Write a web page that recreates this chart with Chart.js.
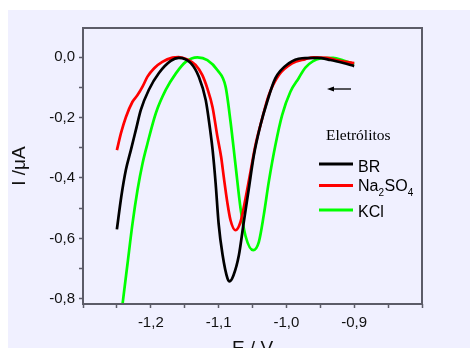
<!DOCTYPE html>
<html>
<head>
<meta charset="utf-8">
<script src="https://cdn.jsdelivr.net/npm/chart.js@4.4.1/dist/chart.umd.min.js"></script>
<style>
    body { margin: 0; background: #ffffff; overflow: hidden; }
    #box { position: absolute; left: 8px; top: 10px; width: 462px; height: 354px; }
</style>
</head>
<body>
<div id="box"><canvas id="myChartVoltametria"></canvas></div>
<script>
// potencial (V) e corrente (uA)
var brE = [-1.25, -1.2436, -1.2368, -1.2294, -1.2221, -1.2147, -1.203, -1.188, -1.1706, -1.1588, -1.141, -1.129, -1.119, -1.1118, -1.1088, -1.1044, -1.1, -1.0941, -1.0868, -1.0838, -1.078, -1.0701, -1.0628, -1.0554, -1.048, -1.0382, -1.0284, -1.0162, -0.9966, -0.9769, -0.9544, -0.935, -0.916, -0.9];
var brI = [-0.570, -0.463, -0.374, -0.308, -0.242, -0.175, -0.109, -0.053, -0.013, -0.003, -0.020, -0.066, -0.142, -0.252, -0.308, -0.417, -0.550, -0.655, -0.733, -0.742, -0.722, -0.656, -0.545, -0.435, -0.325, -0.225, -0.148, -0.070, -0.021, -0.004, -0.003, -0.010, -0.020, -0.030];

var naE = [-1.25, -1.244, -1.2368, -1.227, -1.2196, -1.2122, -1.2049, -1.195, -1.183, -1.168, -1.159, -1.146, -1.134, -1.124, -1.1166, -1.109, -1.102, -1.0963, -1.0922, -1.0872, -1.0824, -1.075, -1.0676, -1.0603, -1.053, -1.0456, -1.0357, -1.026, -1.0113, -0.9916, -0.972, -0.96, -0.94, -0.921, -0.9];
var naI = [-0.308, -0.252, -0.199, -0.148, -0.126, -0.098, -0.065, -0.037, -0.016, -0.002, 0.000, -0.008, -0.026, -0.060, -0.104, -0.165, -0.26, -0.33, -0.40, -0.48, -0.54, -0.573, -0.545, -0.468, -0.380, -0.291, -0.203, -0.126, -0.060, -0.021, -0.007, -0.001, -0.003, -0.013, -0.020];

var kclE = [-1.25, -1.2416, -1.2343, -1.227, -1.2196, -1.2122, -1.2049, -1.1926, -1.178, -1.163, -1.1485, -1.1313, -1.1166, -1.1019, -1.0897, -1.0824, -1.075, -1.0676, -1.0603, -1.049, -1.0407, -1.0334, -1.026, -1.0162, -1.0063, -0.9941, -0.9819, -0.972, -0.95, -0.931, -0.9157, -0.9];
var kclI = [-0.98, -0.816, -0.683, -0.551, -0.440, -0.352, -0.286, -0.186, -0.109, -0.054, -0.016, -0.001, -0.010, -0.043, -0.098, -0.214, -0.358, -0.501, -0.592, -0.639, -0.612, -0.523, -0.413, -0.291, -0.192, -0.115, -0.070, -0.035, -0.005, -0.003, -0.012, -0.023];

var xTicks = [-1.3, -1.25, -1.2, -1.15, -1.1, -1.05, -1.0, -0.95, -0.9, -0.85, -0.8];
var xLabels = [-1.2, -1.1, -1.0, -0.9];
var yTicks = [-0.8, -0.7, -0.6, -0.5, -0.4, -0.3, -0.2, -0.1, 0.0];
var yLabels = [-0.8, -0.6, -0.4, -0.2, 0.0];

var nomes = ['BR', 'Na2SO4', 'KCl'];
var cores = ['#000000', '#ff0000', '#00ff00'];

function pontos(e, i) {
    return e.map(function (v, k) { return { x: v, y: i[k] }; });
}

function rotulo(lista) {
    return function (value) {
        var ok = lista.some(function (v) { return Math.abs(v - value) < 1e-6; });
        return ok ? value.toFixed(1).replace('.', ',') : '';
    };
}

const fonte = "'Liberation Sans', Arial, sans-serif";

const molduraPlugin = {
    id: 'moldura',
    beforeDraw(chart) {
        const c = chart.ctx;
        c.save();
        c.fillStyle = '#f0f0ff';
        c.fillRect(0, 0, chart.width, chart.height);
        c.restore();
    },
    afterDatasetsDraw(chart) {
        const c = chart.ctx;
        const a = chart.chartArea;
        c.save();
        c.strokeStyle = '#5c5c68';
        c.lineWidth = 2;
        c.strokeRect(a.left, a.top, a.right - a.left, a.bottom - a.top);

        // seta de varredura
        const ax = a.left + 244, ay = a.top + 61;
        c.strokeStyle = '#000';
        c.fillStyle = '#000';
        c.lineWidth = 1.3;
        c.beginPath();
        c.moveTo(ax + 24, ay);
        c.lineTo(ax + 4, ay);
        c.stroke();
        c.beginPath();
        c.moveTo(ax, ay);
        c.lineTo(ax + 7, ay - 2.5);
        c.lineTo(ax + 7, ay + 2.5);
        c.closePath();
        c.fill();

        // legenda
        const lx = a.left + 236;
        c.font = "15.5px 'Liberation Serif', 'Times New Roman', serif";
        c.textBaseline = 'alphabetic';
        c.fillText('Eletrólitos', a.left + 243, a.top + 111.5);
        const linhas = [a.top + 136, a.top + 157.5, a.top + 182];
        c.lineWidth = 3;
        for (let k = 0; k < nomes.length; k++) {
            c.strokeStyle = cores[k];
            c.beginPath();
            c.moveTo(lx, linhas[k]);
            c.lineTo(lx + 34, linhas[k]);
            c.stroke();
        }
        c.fillStyle = '#000';
        const tx = lx + 39;
        c.font = '16px ' + fonte;
        c.fillText('BR', tx, linhas[0] + 7.5);
        c.fillText('KCl', tx, linhas[2] + 6.5);
        let x = tx;
        const base = linhas[1] + 5.5;
        const partes = [['Na', 0], ['2', 1], ['SO', 0], ['4', 1]];
        partes.forEach(function (p) {
            c.font = (p[1] ? '10px ' : '16px ') + fonte;
            c.fillText(p[0], x, base + (p[1] ? 5 : 0));
            x += c.measureText(p[0]).width + (p[1] ? 0.5 : 0);
        });
        c.restore();
    }
};

const ctxVolt = document.getElementById('myChartVoltametria');

var dadosVolt = {
    datasets: [
        { label: nomes[0], data: pontos(brE, brI), borderColor: cores[0] },
        { label: nomes[1], data: pontos(naE, naI), borderColor: cores[1] },
        { label: nomes[2], data: pontos(kclE, kclI), borderColor: cores[2] }
    ].map(function (d) {
        d.backgroundColor = 'transparent';
        d.borderWidth = 2.7;
        d.pointRadius = 0;
        d.cubicInterpolationMode = 'monotone';
        d.fill = false;
        return d;
    })
};

var myChartVolt = new Chart(ctxVolt, {
    type: 'line',
    data: dadosVolt,
    plugins: [molduraPlugin],
    options: {
        responsive: true,
        maintainAspectRatio: false,
        animation: false,
        layout: { padding: { left: 0, top: 18, right: 48, bottom: 0 } },
        scales: {
            x: {
                type: 'linear',
                min: -1.3,
                max: -0.8,
                afterBuildTicks: function (s) { s.ticks = xTicks.map(function (v) { return { value: v }; }); },
                afterFit: function (s) { s.height = 60; },
                ticks: {
                    autoSkip: false,
                    maxRotation: 0,
                    padding: 6,
                    color: '#111',
                    font: { family: fonte, size: 15 },
                    callback: rotulo(xLabels)
                },
                grid: {
                    drawOnChartArea: false,
                    tickLength: 4,
                    tickWidth: 1.5,
                    tickColor: '#5c5c68'
                },
                border: { display: false },
                title: {
                    display: true,
                    text: 'E / V',
                    color: '#111',
                    font: { family: fonte, size: 19 }
                }
            },
            y: {
                type: 'linear',
                min: -0.817,
                max: 0.096,
                afterBuildTicks: function (s) { s.ticks = yTicks.map(function (v) { return { value: v }; }); },
                afterFit: function (s) { s.width = 75; },
                ticks: {
                    autoSkip: false,
                    padding: 4,
                    color: '#111',
                    font: { family: fonte, size: 15 },
                    callback: rotulo(yLabels)
                },
                grid: {
                    drawOnChartArea: false,
                    tickLength: 4,
                    tickWidth: 1.5,
                    tickColor: '#5c5c68'
                },
                border: { display: false },
                title: {
                    display: true,
                    text: 'I /μA',
                    color: '#111',
                    padding: 0,
                    font: { family: fonte, size: 19 }
                }
            }
        },
        plugins: {
            legend: { display: false },
            tooltip: { enabled: false }
        }
    }
});
</script>
</body>
</html>
